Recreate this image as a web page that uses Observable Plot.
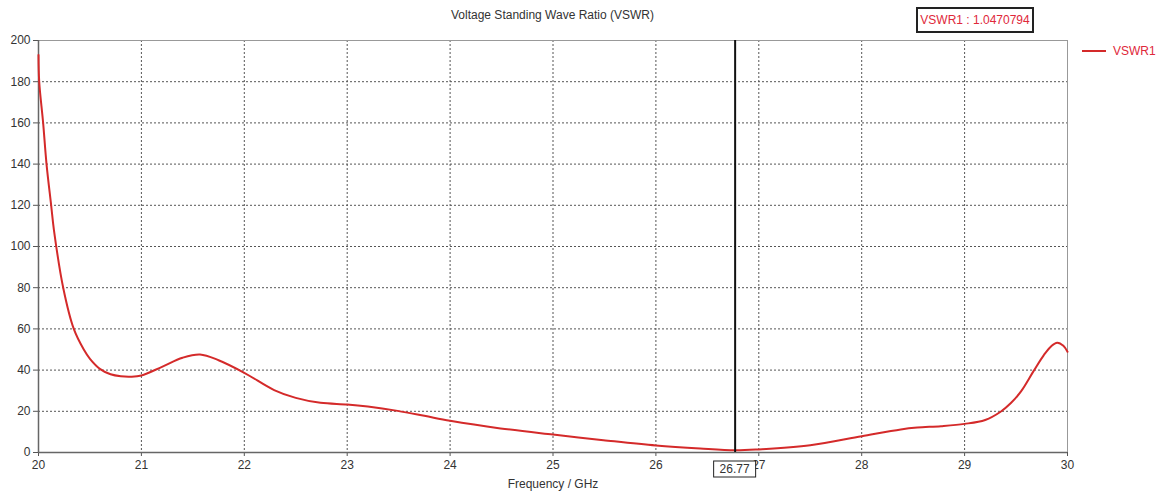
<!DOCTYPE html>
<html>
<head>
<meta charset="utf-8">
<script src="https://cdn.jsdelivr.net/npm/d3@7"></script>
<script src="https://cdn.jsdelivr.net/npm/@observablehq/plot@0.6"></script>
<style>
  html, body { margin: 0; padding: 0; background: #fff; }
  #wrap { position: relative; width: 1158px; height: 496px; font-family: "Liberation Sans", Arial, sans-serif; }
  #title { position: absolute; left: 0; width: 1105px; top: 8px; text-align: center; font-size: 12px; color: #333; }
  #valbox { position: absolute; left: 916px; top: 7px; width: 114px; height: 22px; border: 2px solid #222; color: #e0283a; font-size: 12px; line-height: 22px; text-align: center; white-space: nowrap; }
  #legend { position: absolute; left: 1082px; top: 44px; font-size: 12px; color: #e0283a; display: flex; align-items: center; }
  #legend .sw { width: 24px; height: 2px; background: #d42a2a; margin-right: 7px; }
</style>
</head>
<body>
<div id="wrap">
  <div id="title"></div>
  <div id="valbox"></div>
  <div id="legend"><div class="sw"></div><span id="legtext"></span></div>
</div>
<script>
// ---- data ----
const seriesName = "VSWR1";
const chartTitle = "Voltage Standing Wave Ratio (VSWR)";
const xLabel = "Frequency / GHz";
const markerFreq = 26.77;
const markerValue = "1.0470794";
const xTicks = [20, 21, 22, 23, 24, 25, 26, 27, 28, 29, 30];
const yTicks = [0, 20, 40, 60, 80, 100, 120, 140, 160, 180, 200];
const freq = [20.0, 20.007, 20.045, 20.078, 20.123, 20.15, 20.24, 20.343, 20.44, 20.5, 20.6, 20.7, 20.8, 20.9, 21.0, 21.2, 21.4, 21.57, 21.75, 22.0, 22.29, 22.5, 22.74, 23.0, 23.2, 23.49, 23.75, 24.0, 24.49, 25.0, 25.49, 26.0, 26.43, 26.77, 27.0, 27.5, 28.0, 28.38, 28.54, 28.77, 29.0, 29.2, 29.35, 29.45, 29.55, 29.67, 29.77, 29.84, 29.9, 29.96, 30.0];
const vswr = [193, 180, 160, 140, 120, 108, 80, 60, 50, 45.5, 40.5, 38, 37, 36.8, 37.4, 41.6, 46, 47.6, 44.8, 38.7, 30.3, 26.5, 24.1, 23.3, 22.3, 20.2, 17.8, 15.4, 11.7, 8.7, 6.0, 3.4, 1.9, 1.05, 1.5, 3.5, 7.9, 11.2, 12.1, 12.8, 13.9, 15.8, 19.8, 24, 29.8, 39.5, 47.3, 51.5, 53.3, 51.8, 48.9];

const data = freq.map((f, i) => ({f, v: vswr[i]}));

document.getElementById("title").textContent = chartTitle;
document.getElementById("valbox").textContent = seriesName + " : " + markerValue;
document.getElementById("legtext").textContent = seriesName;

const plot = Plot.plot({
  width: 1158,
  height: 496,
  marginLeft: 38,
  marginRight: 91,
  marginTop: 40,
  marginBottom: 44,
  style: {fontFamily: "'Liberation Sans', Arial, sans-serif", fontSize: "12px", color: "#333", background: "transparent"},
  x: {domain: [20, 30]},
  y: {domain: [0, 200]},
  marks: [
    Plot.gridX(xTicks.slice(1, -1), {stroke: "#555", strokeOpacity: 1, strokeDasharray: "2,2"}),
    Plot.gridY(yTicks.slice(1, -1), {stroke: "#555", strokeOpacity: 1, strokeDasharray: "2,2"}),
    Plot.frame({stroke: "#999"}),
    Plot.axisX(xTicks, {tickSize: 4, tickPadding: 4, stroke: "#555", fill: "#333", label: null, tickFormat: d => String(d)}),
    Plot.axisY(yTicks, {tickSize: 5, tickPadding: 3, stroke: "#555", fill: "#333", label: null, tickFormat: d => String(d)}),
    Plot.ruleX([20], {stroke: "#666", strokeWidth: 1.5}),
    Plot.ruleY([0], {stroke: "#666", strokeWidth: 1.5}),
    Plot.line(data, {x: "f", y: "v", stroke: "#d42a2a", strokeWidth: 2, curve: "catmull-rom"}),
    Plot.ruleX([markerFreq], {stroke: "#111", strokeWidth: 2}),
    Plot.text([xLabel], {frameAnchor: "bottom", dy: 35, fill: "#333", fontSize: 12})
  ]
});

// marker label box on the x axis
const svg = d3.select(plot);
const mx = plot.scale("x").apply(markerFreq);
const yBottom = plot.scale("y").apply(0);
const g = svg.append("g");
g.append("rect")
  .attr("x", mx - 21).attr("y", yBottom + 9)
  .attr("width", 42).attr("height", 16)
  .attr("fill", "#fff").attr("stroke", "#222").attr("stroke-width", 1);
g.append("text")
  .attr("x", mx).attr("y", yBottom + 17)
  .attr("text-anchor", "middle").attr("dominant-baseline", "central")
  .attr("fill", "#333").style("font-size", "12px")
  .text(markerFreq.toFixed(2));

plot.style.position = "absolute";
plot.style.left = "0";
plot.style.top = "0";
document.getElementById("wrap").appendChild(plot);
</script>
</body>
</html>
